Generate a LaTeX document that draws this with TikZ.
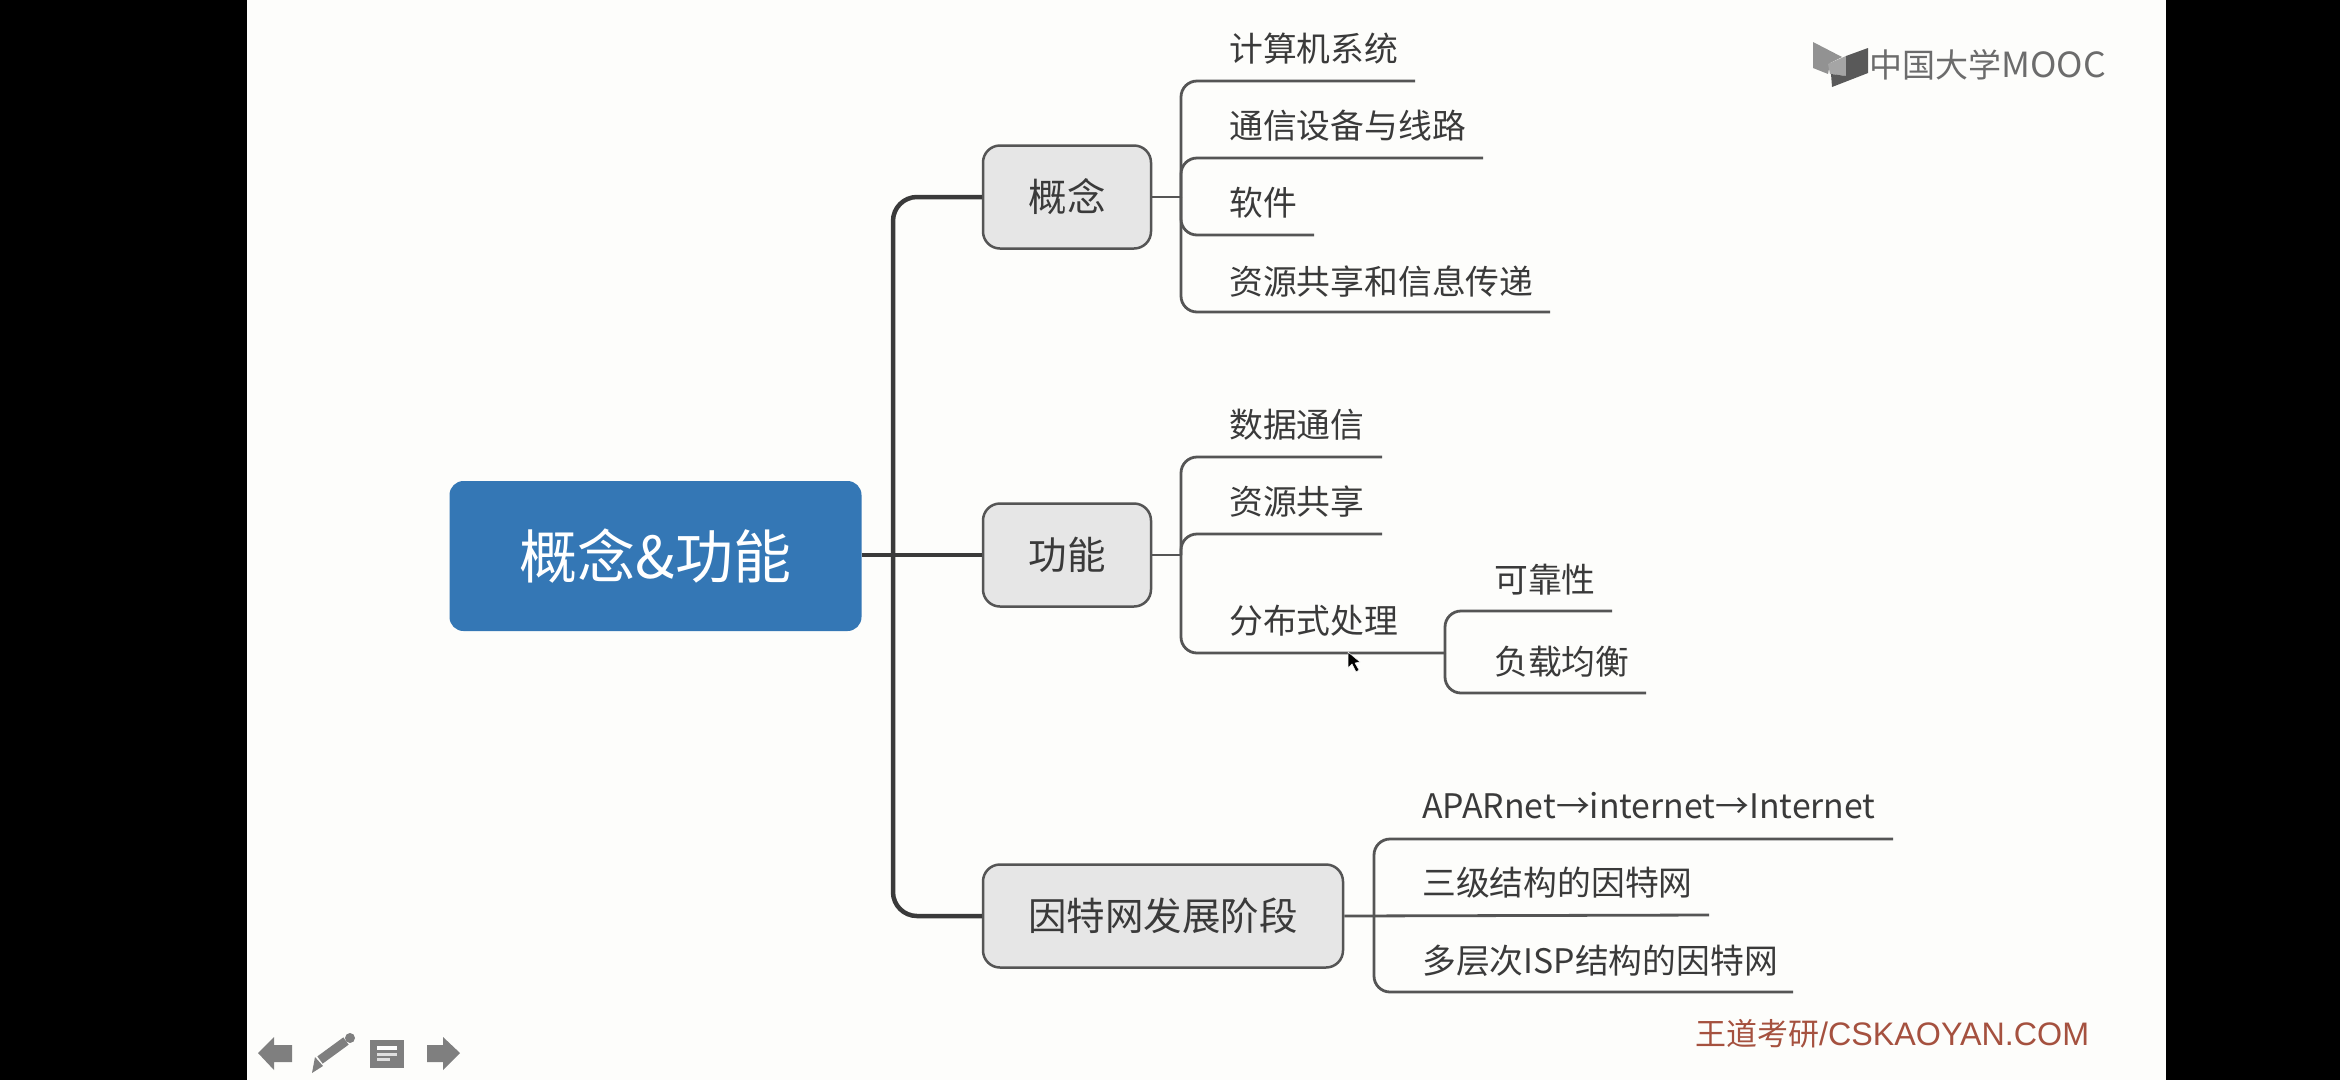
\documentclass[tikz,border=0pt]{standalone}
\usepackage{fontspec}
\setmainfont{Noto Sans CJK SC}
\newfontfamily\wmfont{Liberation Sans}
\definecolor{slide}{HTML}{FDFDFB}
\definecolor{rootblue}{HTML}{3477B5}
\definecolor{boxgrey}{HTML}{E6E6E6}
\definecolor{inkdark}{HTML}{3A3A3A}
\definecolor{linegrey}{HTML}{555555}
\definecolor{iconG}{HTML}{7F7F7F}
\definecolor{wm}{HTML}{A5513F}
\tikzset{
  rootbox/.style={draw=none,fill=rootblue,text=white,rounded corners=14pt,inner sep=0pt,minimum width=412pt,minimum height=150pt,font=\fontsize{58}{58}\selectfont},
  midbox/.style={draw=linegrey,line width=2.5pt,fill=boxgrey,text=inkdark,rounded corners=17pt,inner sep=0pt,minimum height=103pt,font=\fontsize{38.5}{38.5}\selectfont},
  leaf/.style={anchor=west,inner sep=0pt,text=inkdark,font=\fontsize{33.8}{33.8}\selectfont},
  trunk/.style={draw=inkdark,line width=4.5pt},
  branch/.style={draw=linegrey,line width=2.8pt},
  icon/.style={fill=iconG,draw=none}
}
\begin{document}
\begin{tikzpicture}[x=1pt,y=-1pt]
\useasboundingbox (0,0) rectangle (2340,1080);
\fill[black] (0,0) rectangle (2340,1080);
\fill[slide] (247,0) rectangle (2166,1080);
% main nodes
\node[rootbox] (root) at (655.5,556) {概念\&功能};
\node[midbox,minimum width=168pt] (gn1) at (1067,197) {概念};
\node[midbox,minimum width=168pt] (gn2) at (1067,555) {功能};
\node[midbox,minimum width=360pt] (gn3) at (1163,916) {因特网发展阶段};
% trunk
\coordinate (jt) at (893,555);
\draw[trunk] (root.east |- jt) -- (gn2.west);
\draw[trunk,rounded corners=24pt] (gn1.west) -| (jt) |- (gn3.west);
% group 1
\node[leaf] (a1) at (1229,49) {计算机系统};
\node[leaf] (a2) at (1229,126) {通信设备与线路};
\node[leaf] (a3) at (1229,203) {软件};
\node[leaf] (a4) at (1229,282) {资源共享和信息传递};
\coordinate (a1e) at (1415,81);
\coordinate (a2e) at (1483,158);
\coordinate (a3e) at (1314,235);
\coordinate (a4e) at (1550,312);
\coordinate (ja) at (1181,197);
\draw[branch] (gn1.east) -- (ja);
\draw[branch,rounded corners=16pt] (ja) |- (a1e);
\draw[branch,rounded corners=16pt] (ja) |- (a2e);
\draw[branch,rounded corners=16pt] (ja) |- (a3e);
\draw[branch,rounded corners=16pt] (ja) |- (a4e);
% group 2
\node[leaf] (b1) at (1229,425) {数据通信};
\node[leaf] (b2) at (1229,502) {资源共享};
\node[leaf] (b3) at (1229,621) {分布式处理};
\coordinate (b1e) at (1382,457);
\coordinate (b2e) at (1382,534);
\coordinate (b3e) at (1445,653);
\coordinate (jb) at (1181,555);
\draw[branch] (gn2.east) -- (jb);
\draw[branch,rounded corners=16pt] (jb) |- (b1e);
\draw[branch,rounded corners=16pt] (jb) |- (b2e);
\draw[branch,rounded corners=16pt] (jb) |- (b3e);
% sub group
\node[leaf] (c1) at (1494,580) {可靠性};
\node[leaf] (c2) at (1494,662) {负载均衡};
\coordinate (c1e) at (1612,611);
\coordinate (c2e) at (1646,693);
\draw[branch,rounded corners=16pt] (b3e) |- (c1e);
\draw[branch,rounded corners=16pt] (b3e) |- (c2e);
% group 3
\node[leaf] (d1) at (1422,806) {APARnet→internet→Internet};
\node[leaf] (d2) at (1422,883) {三级结构的因特网};
\node[leaf] (d3) at (1422,961) {多层次ISP结构的因特网};
\coordinate (d1e) at (1893,839);
\coordinate (d2e) at (1709,915);
\coordinate (d3e) at (1793,992);
\coordinate (jd) at (1374,915);
\draw[branch] (gn3.east) -- (d2e);
\draw[branch,rounded corners=16pt] (jd) |- (d1e);
\draw[branch,rounded corners=16pt] (jd) |- (d3e);
% cursor
\fill[black,draw=white,line width=.5pt] (1348,652) -- (1348,668) -- (1352,664) -- (1356,672) -- (1359,670) -- (1355,663) -- (1360,662) -- cycle;
% logo
\fill[iconG!85] (1813,42) -- (1842,57) -- (1830,63) -- (1828,74) -- (1813,68) -- cycle;
\fill[iconG!130!black] (1828,64) -- (1846,56) -- (1846,76) -- (1830,74) -- cycle;
\fill[iconG!70!black] (1846,56) -- (1868,48) -- (1868,73) -- (1832,87) -- (1831,74) -- (1846,76) -- cycle;
\node[anchor=west,inner sep=0pt,text=iconG!85!black,font=\fontsize{33}{33}\selectfont] (logo) at (1869,65) {中国大学\scalebox{1.08}[1.05]{MOOC}};
% watermark
\node[anchor=west,inner sep=0pt,text=wm,font=\fontsize{31}{31}\selectfont] (mark) at (1695,1034) {王道考研{\wmfont\scalebox{1.04}[1.05]{/CSKAOYAN.COM}}};
% toolbar
\fill[icon] (258,1053) -- (274,1037) -- (274,1045) -- (292,1045) -- (292,1062) -- (274,1062) -- (274,1070) -- cycle;
\draw[iconG,line width=9pt] (320,1060) -- (346,1041);
\fill[icon] (350,1038) circle (5pt);
\fill[icon] (312,1073) -- (315,1057) -- (323,1066) -- cycle;
\fill[icon] (370,1040) rectangle (404,1068);
\fill[white] (377,1046) rectangle (397,1050);
\fill[white!75!iconG] (377,1053) rectangle (397,1056);
\fill[white!75!iconG] (377,1058) rectangle (390,1061);
\fill[icon] (460,1053) -- (443,1037) -- (443,1045) -- (427,1045) -- (427,1062) -- (443,1062) -- (443,1070) -- cycle;
\end{tikzpicture}
\end{document}
